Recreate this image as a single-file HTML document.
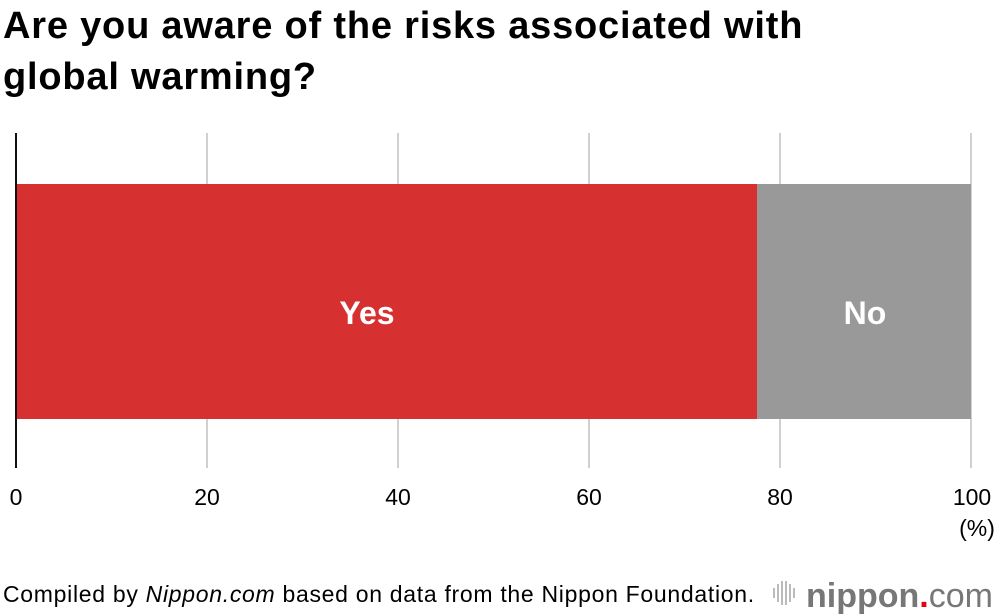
<!DOCTYPE html>
<html><head><style>
body{margin:0;width:1000px;height:616px;background:#fff;font-family:"Liberation Sans",Arial,sans-serif;overflow:hidden;position:relative}
.t{position:absolute;left:3px;top:1px;font-size:38px;font-weight:bold;line-height:51px;color:#000;letter-spacing:0.8px}
.f{position:absolute;left:3px;top:581px;font-size:23px;color:#000;letter-spacing:0.7px}
.logo{position:absolute;left:806px;top:577px;font-size:34px;color:#777;font-weight:bold;white-space:nowrap}
</style></head><body>
<div class="t">Are you aware of the risks associated with<br>global warming?</div>
<svg width="1000" height="616" style="position:absolute;left:0;top:0">
<g stroke="#d0d0d0" stroke-width="2">
<line x1="207" y1="133" x2="207" y2="468"/><line x1="398" y1="133" x2="398" y2="468"/>
<line x1="589" y1="133" x2="589" y2="468"/><line x1="780" y1="133" x2="780" y2="468"/>
<line x1="971" y1="133" x2="971" y2="468"/></g>
<rect x="16" y="184" width="741" height="235" fill="#d63031"/>
<rect x="757" y="184" width="214" height="235" fill="#999999"/>
<line x1="16" y1="133" x2="16" y2="468" stroke="#111" stroke-width="2"/>
<g font-family="Liberation Sans,Arial,sans-serif" font-weight="bold" font-size="32" fill="#fff" text-anchor="middle">
<text x="367" y="324">Yes</text><text x="865" y="324">No</text></g>
<g font-family="Liberation Sans,Arial,sans-serif" font-size="23" fill="#000" text-anchor="middle">
<text x="16" y="505">0</text><text x="207" y="505">20</text><text x="398" y="505">40</text>
<text x="589" y="505">60</text><text x="780" y="505">80</text><text x="972" y="505">100</text>
<text x="977" y="536">(%)</text></g>
<g stroke="#bbb" stroke-width="2">
<line x1="774" y1="588" x2="774" y2="598"/><line x1="778" y1="584" x2="778" y2="602"/>
<line x1="782" y1="581" x2="782" y2="605"/><line x1="786" y1="581" x2="786" y2="605"/>
<line x1="790" y1="584" x2="790" y2="602"/><line x1="794" y1="588" x2="794" y2="598"/></g>
</svg>
<div class="f">Compiled by <i>Nippon.com</i> based on data from the Nippon Foundation.</div>
<div class="logo">nippon<span style="color:#e60012">.</span><span style="font-weight:normal">com</span></div>
</body></html>
